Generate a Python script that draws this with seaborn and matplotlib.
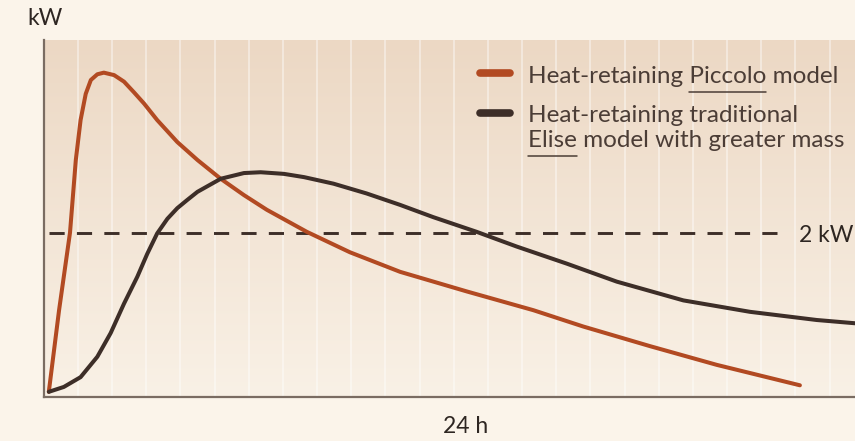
import numpy as np
import pandas as pd
import matplotlib
matplotlib.use("Agg")
import matplotlib.pyplot as plt
from matplotlib.lines import Line2D
import seaborn as sns

# Heat output over 24 h
piccolo_h = [0.15, 0.45, 0.77, 0.94, 1.08, 1.23, 1.38, 1.57, 1.76, 2.06, 2.35, 2.64, 2.94,
             3.32, 3.91, 4.50, 5.18, 5.86, 6.53, 7.70, 8.96, 10.43, 12.38, 14.33, 15.79,
             17.74, 19.70, 22.13]
piccolo_kw = [0.06, 1.06, 2.01, 2.90, 3.39, 3.71, 3.88, 3.95, 3.97, 3.94, 3.86, 3.73, 3.59,
              3.39, 3.12, 2.90, 2.67, 2.47, 2.29, 2.02, 1.77, 1.53, 1.29, 1.06, 0.86,
              0.62, 0.39, 0.14]
elise_h = [0.15, 0.59, 1.08, 1.57, 1.96, 2.35, 2.74, 3.03, 3.32, 3.62, 3.91, 4.20, 4.50,
           5.18, 5.86, 6.35, 7.03, 7.62, 8.48, 9.45, 10.43, 11.40, 12.67, 13.84, 15.31,
           16.77, 18.72, 20.67, 22.62, 23.74]
elise_kw = [0.06, 0.12, 0.24, 0.49, 0.78, 1.14, 1.47, 1.75, 2.00, 2.18, 2.31, 2.41, 2.51,
            2.67, 2.74, 2.75, 2.73, 2.69, 2.61, 2.49, 2.35, 2.20, 2.02, 1.84, 1.63,
            1.41, 1.18, 1.04, 0.94, 0.90]
threshold_kw = 2.0
hour_ticks = list(range(1, 24))

piccolo_label = "Heat-retaining Piccolo model"
elise_label_1 = "Heat-retaining traditional"
elise_label_2 = "Elise model with greater mass"

BG = "#fbf4ea"
ORANGE = "#b24a22"
DARK = "#3d2e28"
TEXT = "#4b3d36"

sns.set_style("white")
plt.rcParams["font.family"] = ["Lato", "DejaVu Sans"]

fig = plt.figure(figsize=(8.55, 4.41), dpi=100, facecolor=BG)
ax = fig.add_axes([0.0511, 0.1004, 0.9592, 0.8089])

# gradient background of the plot area
grad = np.linspace(0, 1, 256).reshape(-1, 1)
cmap = matplotlib.colors.LinearSegmentedColormap.from_list("bg", ["#ecd8c4", "#f9f1e6"])
ax.imshow(grad, cmap=cmap, aspect="auto", extent=[0, 1, 0, 1], transform=ax.transAxes,
          zorder=0, origin="upper")

for h in hour_ticks:
    ax.axvline(h, color="white", alpha=0.45, lw=1.3, zorder=1)

ax.plot([0.15, 21.6], [threshold_kw, threshold_kw], color=DARK, lw=2.1,
        dashes=(5.2, 4.2), zorder=2)

df_p = pd.DataFrame({"h": piccolo_h, "kw": piccolo_kw})
df_e = pd.DataFrame({"h": elise_h, "kw": elise_kw})
sns.lineplot(data=df_p, x="h", y="kw", ax=ax, color=ORANGE, lw=2.9, sort=False,
             solid_capstyle="round", solid_joinstyle="round", zorder=3)
sns.lineplot(data=df_e, x="h", y="kw", ax=ax, color=DARK, lw=2.9, sort=False,
             solid_capstyle="round", solid_joinstyle="round", zorder=4)

ax.set_xlim(0, 24)
ax.set_ylim(0, 4.37)
ax.set_xticks([])
ax.set_yticks([])
ax.set_xlabel("")
ax.set_ylabel("")
for s in ["top", "right"]:
    ax.spines[s].set_visible(False)
for s in ["left", "bottom"]:
    ax.spines[s].set_color("#7a6c62")
    ax.spines[s].set_linewidth(1.6)

W, H = 855, 441


def fx(px):
    return px / W


def fy(py):
    return 1 - py / H


fs = 17.5
fig.text(fx(27), fy(25), "kW", fontsize=fs - 1, color="#2e2622", va="baseline", ha="left")
fig.text(fx(466), fy(432.7), "24 h", fontsize=fs - 1, color="#2e2622", va="baseline", ha="center")
fig.text(fx(799), fy(242), "2 kW", fontsize=fs - 1, color="#2e2622", va="baseline", ha="left")

# legend drawn by hand so words can be underlined
fig.add_artist(Line2D([fx(480), fx(510)], [fy(73), fy(73)], color=ORANGE, lw=5.5,
                      solid_capstyle="round"))
fig.add_artist(Line2D([fx(480), fx(510)], [fy(113), fy(113)], color=DARK, lw=5.5,
                      solid_capstyle="round"))

fig.canvas.draw()
renderer = fig.canvas.get_renderer()


def text_width(s):
    t = fig.text(0, 0, s, fontsize=fs)
    w = t.get_window_extent(renderer).width
    t.remove()
    return w


def underline(x_left, base_y, prefix, word):
    x1 = x_left + text_width(prefix + word)
    x0 = x1 - text_width(word)
    fig.add_artist(Line2D([fx(x0), fx(x1)], [fy(base_y), fy(base_y)], color=TEXT, lw=1.1))


fig.text(fx(528), fy(83), piccolo_label, fontsize=fs, color=TEXT, va="baseline")
underline(528, 92, "Heat-retaining ", "Piccolo")
fig.text(fx(528), fy(122), elise_label_1, fontsize=fs, color=TEXT, va="baseline")
fig.text(fx(528), fy(147), elise_label_2, fontsize=fs, color=TEXT, va="baseline")
underline(528, 156, "", "Elise")

fig.savefig("out.png", dpi=100, facecolor=BG)
